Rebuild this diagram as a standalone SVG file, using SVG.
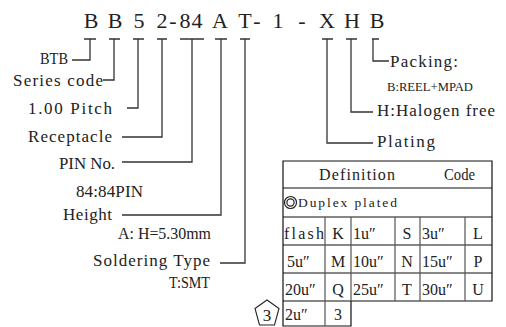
<svg xmlns="http://www.w3.org/2000/svg" width="506" height="327" viewBox="0 0 506 327">
<style>
text{font-family:"Liberation Serif","Times New Roman",serif;fill:#222}
.code{font-size:22px}
.lbl{font-size:17px}
.sm{font-size:13.5px}
.tb{font-size:16px}
.c{text-anchor:middle}
.ln{fill:none;stroke:#333;stroke-width:1.3}
.tl{fill:none;stroke:#111;stroke-width:1.2}
.tg{fill:none;stroke:#555;stroke-width:1.2}
</style>
<rect width="506" height="327" fill="#fff"/>
<g id="partnumber">
<text class="code c" y="28" x="91 115 139 162 173 185 197 220 245 257 278 302 327 352 377">BB52-84AT-1-XHB</text>
</g>
<g id="connectors">
<path class="ln" d="M84 39H96M90 39V60H72"/>
<path class="ln" d="M109 39H120M114 39V80H103"/>
<path class="ln" d="M133 39H144M138 39V108H127"/>
<path class="ln" d="M157 39H167M162 39V137H122"/>
<path class="ln" d="M180 39H204M192 39V162H122"/>
<path class="ln" d="M215 39H227M221 39V215H122"/>
<path class="ln" d="M240 39H250M245 39V263H220"/>
<path class="ln" d="M322 39H333M327 39V143H373"/>
<path class="ln" d="M346 39H357M351 39V112H373"/>
<path class="ln" d="M372 39H379M373 39V61H389"/>
</g>
<g id="label-btb"><text class="lbl" x="40" y="64" textLength="28" lengthAdjust="spacingAndGlyphs">BTB</text></g>
<g id="label-series"><text class="lbl" x="13" y="86" textLength="90">Series code</text></g>
<g id="label-pitch"><text class="lbl" x="28" y="114" textLength="84">1.00 Pitch</text></g>
<g id="label-receptacle"><text class="lbl" x="28" y="142" textLength="84">Receptacle</text></g>
<g id="label-pin"><text class="lbl" x="59" y="169" textLength="56" lengthAdjust="spacingAndGlyphs">PIN No.</text><text class="lbl" x="76" y="197" textLength="67">84:84PIN</text></g>
<g id="label-height"><text class="lbl" x="63" y="220" textLength="49">Height</text><text class="lbl" x="118" y="239" textLength="93" lengthAdjust="spacingAndGlyphs">A: H=5.30mm</text></g>
<g id="label-soldering"><text class="lbl" x="93" y="266" textLength="117">Soldering Type</text><text class="lbl" x="169" y="288" textLength="41" lengthAdjust="spacingAndGlyphs">T:SMT</text></g>
<g id="label-packing"><text class="lbl" x="390" y="67" textLength="68">Packing:</text><text class="sm" x="387" y="91" textLength="86" lengthAdjust="spacingAndGlyphs">B:REEL+MPAD</text></g>
<g id="label-halogen"><text class="lbl" x="377" y="116" textLength="118">H:Halogen free</text></g>
<g id="label-plating"><text class="lbl" x="377" y="147" textLength="58">Plating</text></g>
<g id="plating-table">
<path class="tl" d="M283 161H492V301H283ZM283 188H492M283 217H492M283 245H492M283 273H492M283 301V326H351V301"/>
<path class="tg" d="M325 217V326M351 217V301M395 217V301M420 217V301M465 217V301"/>
<text class="tb" x="319" y="180" textLength="76">Definition</text>
<text class="tb" x="444" y="180" textLength="31" lengthAdjust="spacingAndGlyphs">Code</text>
<circle cx="290.5" cy="202.5" r="6" fill="none" stroke="#222" stroke-width="1.2"/>
<circle cx="290.5" cy="202.5" r="3.6" fill="none" stroke="#222" stroke-width="1.2"/>
<text class="sm" x="298" y="207" textLength="99">Duplex plated</text>
<text class="tb" x="284" y="239" textLength="40">flash</text>
<text class="tb c" x="338" y="239">K</text>
<text class="tb" x="353" y="239">1u″</text>
<text class="tb c" x="407" y="239">S</text>
<text class="tb" x="422" y="239">3u″</text>
<text class="tb c" x="478" y="239">L</text>
<text class="tb" x="287" y="267">5u″</text>
<text class="tb c" x="338" y="267">M</text>
<text class="tb" x="353" y="267">10u″</text>
<text class="tb c" x="407" y="267">N</text>
<text class="tb" x="422" y="267">15u″</text>
<text class="tb c" x="478" y="267">P</text>
<text class="tb" x="285" y="295">20u″</text>
<text class="tb c" x="338" y="295">Q</text>
<text class="tb" x="353" y="295">25u″</text>
<text class="tb c" x="407" y="295">T</text>
<text class="tb" x="422" y="295">30u″</text>
<text class="tb c" x="478" y="295">U</text>
<text class="tb" x="285" y="320">2u″</text>
<text class="tb c" x="338" y="320">3</text>
</g>
<g id="note-3">
<polygon points="267,300 279,308.5 274.5,325 259.5,325 255,308.5" fill="none" stroke="#222" stroke-width="1.1"/>
<text class="c" x="267" y="321" style="font-size:17px">3</text>
</g>
</svg>
